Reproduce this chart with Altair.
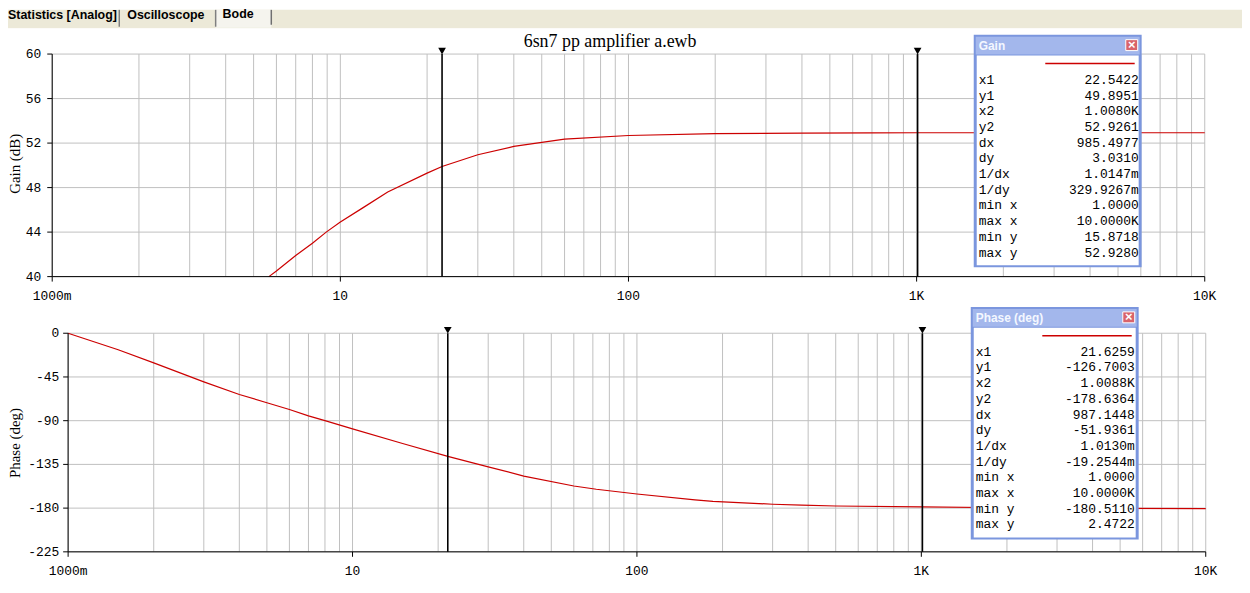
import altair as alt
import pandas as pd

# ---------------- data ----------------
gain_freq = [5.65, 6, 7, 8, 8.93, 10, 12, 14.6, 20, 22.54, 30, 40, 60, 100, 200, 400, 700, 1000, 10000]
gain_db = [40.0, 40.5, 41.9, 43.0, 44.0, 44.9, 46.2, 47.6, 49.3, 49.9, 50.95, 51.7, 52.35, 52.68, 52.85, 52.9, 52.92, 52.93, 52.93]

phase_freq = [1, 1.5, 2, 3, 4, 5, 6, 7, 8, 10, 15, 21.63, 30, 40, 60, 72, 100, 160, 185, 300, 380, 500, 1000, 2000, 5000, 10000]
phase_deg = [0, -17, -30.5, -50, -63, -71.5, -78.5, -85, -90, -98.5, -113.5, -126.7, -137.5, -147, -157.2, -160.6,
             -165.5, -171.5, -173, -176, -177, -177.8, -178.8, -179.6, -180.2, -180.5]

gain_cursors = [22.5422, 1008.0]
phase_cursors = [21.6259, 1008.8]

x_decades = [1, 10, 100, 1000, 10000]
x_decade_labels = ["1000m", "10", "100", "1K", "10K"]
x_grid = [m * d for d in [1, 10, 100, 1000] for m in range(1, 10)] + [10000]
gain_ticks = [40, 44, 48, 52, 56, 60]
phase_ticks = [-225, -180, -135, -90, -45, 0]

row_names = ["x1", "y1", "x2", "y2", "dx", "dy", "1/dx", "1/dy", "min x", "max x", "min y", "max y"]
gain_vals = ["22.5422", "49.8951", "1.0080K", "52.9261", "985.4977", "3.0310", "1.0147m", "329.9267m",
             "1.0000", "10.0000K", "15.8718", "52.9280"]
phase_vals = ["21.6259", "-126.7003", "1.0088K", "-178.6364", "987.1448", "-51.9361", "1.0130m", "-19.2544m",
              "1.0000", "10.0000K", "-180.5110", "2.4722"]
tab_names = ["Statistics [Analog]", "Oscilloscope", "Bode"]
chart_title = "6sn7 pp amplifier a.ewb"
gain_title = "Gain (dB)"
phase_title = "Phase (deg)"
freq_title = "Frequency (Hz)"

# ---------------- layout / style ----------------
W, H = 1242, 573
ONE = pd.DataFrame({"k": [0]})
RED = "#cc0000"
GRID = "#c0c0c0"
MONO = "Liberation Mono"
SERIF = "Liberation Serif"
SANS = "Liberation Sans"


def panel(freq, vals, cursors, ticks, xr, yr, xpad, ypad):
    X = alt.Scale(type="log", domain=[x_decades[0], x_decades[-1]], range=xr, nice=False)
    Y = alt.Scale(domain=[min(ticks), max(ticks)], range=yr, nice=False, zero=False)
    xmin, xmax = x_decades[0], x_decades[-1]
    ymin, ymax = min(ticks), max(ticks)

    def ex(field):
        return alt.X(field, type="quantitative", scale=X, axis=None)

    def ey(field):
        return alt.Y(field, type="quantitative", scale=Y, axis=None)

    vgrid = alt.Chart(pd.DataFrame({"f": x_grid, "lo": ymin, "hi": ymax})).mark_rule(
        color=GRID, strokeWidth=1).encode(x=ex("f"), y=ey("lo"), y2=alt.Y2("hi"))
    hgrid = alt.Chart(pd.DataFrame({"v": ticks, "lo": xmin, "hi": xmax})).mark_rule(
        color=GRID, strokeWidth=1).encode(x=ex("lo"), x2=alt.X2("hi"), y=ey("v"))
    line = alt.Chart(pd.DataFrame({"f": freq, "v": vals})).mark_line(
        color=RED, strokeWidth=1.2).encode(x=ex("f"), y=ey("v"))
    xdom = alt.Chart(pd.DataFrame({"a": [xmin], "b": [xmax], "y": [ymin]})).mark_rule(
        color="black", strokeWidth=1).encode(x=ex("a"), x2=alt.X2("b"), y=ey("y"))
    ydom = alt.Chart(pd.DataFrame({"x": [xmin], "a": [ymin], "b": [ymax]})).mark_rule(
        color="black", strokeWidth=1).encode(x=ex("x"), y=ey("a"), y2=alt.Y2("b"))
    xt_df = pd.DataFrame({"f": x_decades, "lab": x_decade_labels, "y": ymin})
    xticks = alt.Chart(xt_df).mark_rule(color="black", strokeWidth=1, y2Offset=5).encode(
        x=ex("f"), y=ey("y"), y2=alt.Y2("y"))
    xlabels = alt.Chart(xt_df).mark_text(font=MONO, fontSize=13, color="black", baseline="top",
                                         align="center", dy=5 + xpad).encode(
        x=ex("f"), y=ey("y"), text=alt.Text("lab:N"))
    yt_df = pd.DataFrame({"v": ticks, "lab": [str(t) for t in ticks], "x": xmin})
    yticks = alt.Chart(yt_df).mark_rule(color="black", strokeWidth=1, x2Offset=-5).encode(
        x=ex("x"), x2=alt.X2("x"), y=ey("v"))
    ylabels = alt.Chart(yt_df).mark_text(font=MONO, fontSize=13, color="black", baseline="middle",
                                         align="right", dx=-(5 + ypad)).encode(
        x=ex("x"), y=ey("v"), text=alt.Text("lab:N"))
    cur_df = pd.DataFrame({"f": cursors, "top": ymax, "bot": ymin})
    rules = alt.Chart(cur_df).mark_rule(color="black", strokeWidth=1.6).encode(
        x=ex("f"), y=ey("top"), y2=alt.Y2("bot"))
    tri = alt.Chart(cur_df).mark_point(shape="triangle-down", filled=True, color="black", opacity=1,
                                       size=60, yOffset=-3).encode(x=ex("f"), y=ey("top"))
    return alt.layer(vgrid, hgrid, line, xdom, ydom, xticks, xlabels, yticks, ylabels, rules, tri)


def rect(x1, y1, x2, y2, fill, stroke=None, sw=1):
    kw = dict(fill=fill)
    if stroke:
        kw.update(stroke=stroke, strokeWidth=sw)
    return alt.Chart(ONE).mark_rect(**kw).encode(x=alt.value(x1), x2=alt.value(x2),
                                                 y=alt.value(y1), y2=alt.value(y2))


def seg(x1, y1, x2, y2, color, width=1):
    return alt.Chart(ONE).mark_rule(color=color, strokeWidth=width).encode(
        x=alt.value(x1), x2=alt.value(x2), y=alt.value(y1), y2=alt.value(y2))


def text(s, x, y, size=13, font=MONO, color="black", align="left", baseline="middle",
         weight="normal", angle=None, line_height=None):
    kw = dict(font=font, fontSize=size, color=color, align=align, baseline=baseline, fontWeight=weight)
    if angle is not None:
        kw["angle"] = angle
    if line_height is not None:
        kw.update(lineBreak="\n", lineHeight=line_height)
    return alt.Chart(ONE).mark_text(**kw).encode(x=alt.value(x), y=alt.value(y), text=alt.value(s))


def cursor_box(x1, y1, x2, y2, name, lab_x, val_x, row_top, values):
    return [
        rect(x1, y1, x2, y2, "#7b96de"),
        rect(x1 + 2, y1 + 2, x2 - 2, y1 + 20, "#a3b7ec"),
        rect(x1 + 3, y1 + 21, x2 - 3, y2 - 2, "white"),
        text(name, x1 + 5, y1 + 11, size=12, font=SANS, color="#f4f7ff", weight="bold"),
        rect(x2 - 16, y1 + 5, x2 - 4, y1 + 16, "#d9646b", stroke="white", sw=1),
        text("\u00d7", x2 - 10, y1 + 10.5, size=13, font=SANS, color="white", align="center", weight="bold"),
        seg(x2 - 97, y1 + 29, x2 - 7, y1 + 29, RED, 1.3),
        text("\n".join(row_names), lab_x, row_top, baseline="top", line_height=15.8),
        text("\n".join(values), val_x, row_top, baseline="top", align="right", line_height=15.8),
    ]


top = panel(gain_freq, gain_db, gain_cursors, gain_ticks, [44.5, 1204.5], [268.5, 44.5], 9, 6)
bottom = panel(phase_freq, phase_deg, phase_cursors, phase_ticks, [60.5, 1205.5], [545.5, 325.5], 8, 4)

chrome = [
    # tab bar
    rect(0, 0, W, 19, "#ece9d8"),
    rect(209, 0, 265, 18, "#f5f4ee"),
    seg(0, 19, W, 19, "#ffffff", 1),
    seg(112, 0, 112, 17, "#7f7f7f", 1.5),
    seg(209, 0, 209, 17, "#7f7f7f", 1.5),
    seg(265, 0, 265, 15, "#6f6f6f", 1.5),
    text(tab_names[0], 0, 5.5, size=12.5, font=SANS, weight="bold"),
    text(tab_names[1], 120, 5.5, size=12.5, font=SANS, weight="bold"),
    text(tab_names[2], 216, 4, size=12.5, font=SANS, weight="bold"),
    # titles
    text(chart_title, 606, 37, size=18, font=SERIF, align="center", baseline="alphabetic"),
    text(gain_title, 7, 155, size=15, font=SERIF, align="center", angle=270),
    text(phase_title, 7, 436, size=15, font=SERIF, align="center", angle=270),
    text(freq_title, 632, 575, size=15, font=SERIF, align="center", baseline="top"),
]
chrome += cursor_box(972, 25, 1141, 259, "Gain", 977, 1138, 64.5, gain_vals)
chrome += cursor_box(969, 299, 1138, 533, "Phase (deg)", 974, 1134, 338.2, phase_vals)

chart = alt.layer(top, bottom, *chrome).resolve_scale(
    x="independent", y="independent"
).properties(
    width=W, height=H, autosize=alt.AutoSizeParams(type="none"), padding=0
).configure_view(strokeWidth=0)

chart.save("out.html", embed_options={"renderer": "svg", "actions": False})
